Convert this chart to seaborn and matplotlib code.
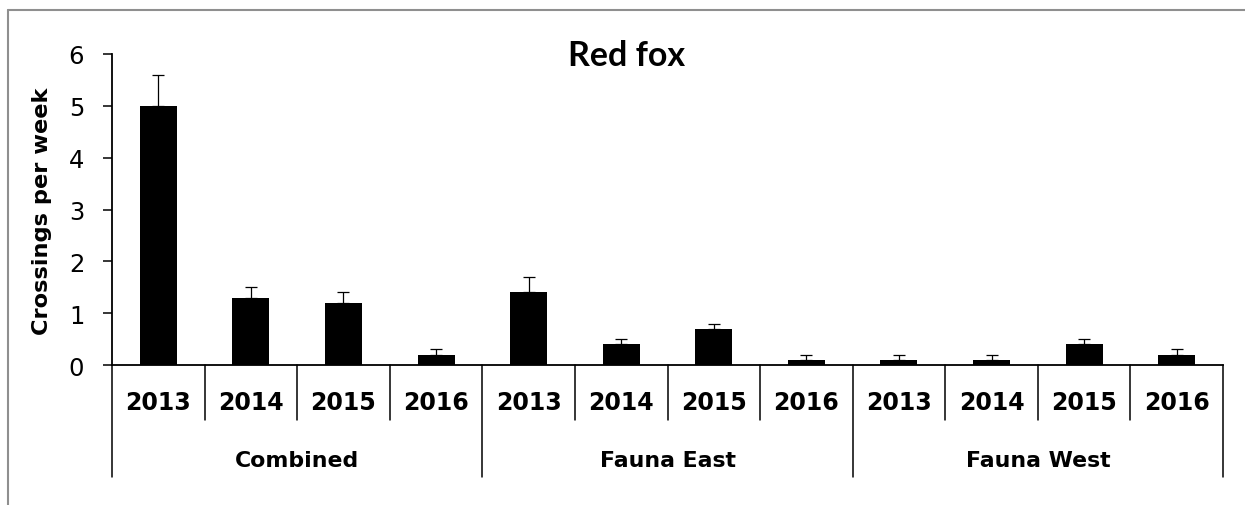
import matplotlib
matplotlib.use("Agg")
import matplotlib.pyplot as plt
import matplotlib.transforms as mtransforms
from matplotlib.lines import Line2D
import numpy as np
import pandas as pd
import seaborn as sns

# Weekly crossing rates (mean and standard error) by site and year
groups = ["Combined", "Fauna East", "Fauna West"]
years = ["2013", "2014", "2015", "2016"]
combined_mean = [5.0, 1.3, 1.2, 0.2]
combined_se = [0.6, 0.2, 0.2, 0.1]
east_mean = [1.4, 0.4, 0.7, 0.1]
east_se = [0.3, 0.1, 0.1, 0.1]
west_mean = [0.1, 0.1, 0.4, 0.2]
west_se = [0.1, 0.1, 0.1, 0.1]
y_ticks = [0, 1, 2, 3, 4, 5, 6]

means = combined_mean + east_mean + west_mean
ses = combined_se + east_se + west_se
df = pd.DataFrame({
    "group": np.repeat(groups, len(years)),
    "year": years * len(groups),
    "mean": means,
    "se": ses,
})
df["slot"] = df["group"] + " " + df["year"]

sns.set_style("white")
plt.rcParams["font.family"] = ["DejaVu Sans"]
plt.rcParams["text.color"] = "black"
plt.rcParams["ytick.color"] = "black"
plt.rcParams["ytick.labelcolor"] = "black"
plt.rcParams["axes.labelcolor"] = "black"

W, H = 1245, 506
fig = plt.figure(figsize=(W / 100, H / 100), dpi=100)
ax = fig.add_axes([112 / W, 1 - 366 / H, (1223 - 112) / W, (366 - 55) / H])

sns.barplot(data=df, x="slot", y="mean", order=list(df["slot"]), color="black",
            width=0.4, errorbar=None, saturation=1, linewidth=0, ax=ax)
xpos = np.arange(len(df))
ax.errorbar(xpos, df["mean"], yerr=[np.zeros(len(df)), df["se"]], fmt="none",
            ecolor="black", elinewidth=0.9, capsize=4, capthick=0.9)

ax.set_xlim(-0.5, len(df) - 0.5)
ax.set_ylim(0, 6)
ax.set_yticks(y_ticks)
ax.set_yticklabels([str(t) for t in y_ticks], fontsize=17.5, color="black")
ax.tick_params(axis="y", direction="out", length=6.5, width=1.1, pad=13.5,
               left=True, colors="black")
ax.tick_params(axis="x", bottom=False, labelbottom=False)
ax.set_xlabel("")
ax.set_ylabel("")
for side in ["top", "right"]:
    ax.spines[side].set_visible(False)
for side in ["left", "bottom"]:
    ax.spines[side].set_color("black")
    ax.spines[side].set_linewidth(1.3)

# Two-level category axis: year labels with short dividers, site labels with long dividers
trans = mtransforms.blended_transform_factory(ax.transData, ax.transAxes)
year_depth = -55 / 311
group_depth = -112 / 311
for i in range(len(df) + 1):
    depth = group_depth if i % len(years) == 0 else year_depth
    ax.add_line(Line2D([i - 0.5, i - 0.5], [0, depth], transform=trans,
                       color="black", lw=1.1, clip_on=False))
for i, yr in enumerate(df["year"]):
    ax.text(i, -44 / 311, yr, transform=trans, ha="center", va="baseline",
            fontsize=17, fontweight="bold", color="black")
for g, name in enumerate(groups):
    centre = g * len(years) + (len(years) - 1) / 2
    ax.text(centre, -100.7 / 311, name, transform=trans, ha="center", va="baseline",
            fontsize=15.8, fontweight="bold", color="black")

fig.text(42 / W, 1 - 211 / H, "Crossings per week", rotation=90,
         ha="center", va="center", fontsize=16.2, fontweight="bold", color="black")
fig.text(627 / W, 1 - 66 / H, "Red fox", ha="center", va="baseline",
         fontsize=24.5, fontweight="bold", color="black",
         family=["Lato", "DejaVu Sans"])

# Chart-area frame
frame_col = "#8f8f8f"
fig.add_artist(Line2D([8 / W, 1], [1 - 10.5 / H, 1 - 10.5 / H],
                      transform=fig.transFigure, color=frame_col, lw=1.5))
fig.add_artist(Line2D([8 / W, 8 / W], [0, 1 - 10.5 / H],
                      transform=fig.transFigure, color=frame_col, lw=1.5))

fig.savefig("out.png", dpi=100, facecolor="white")
